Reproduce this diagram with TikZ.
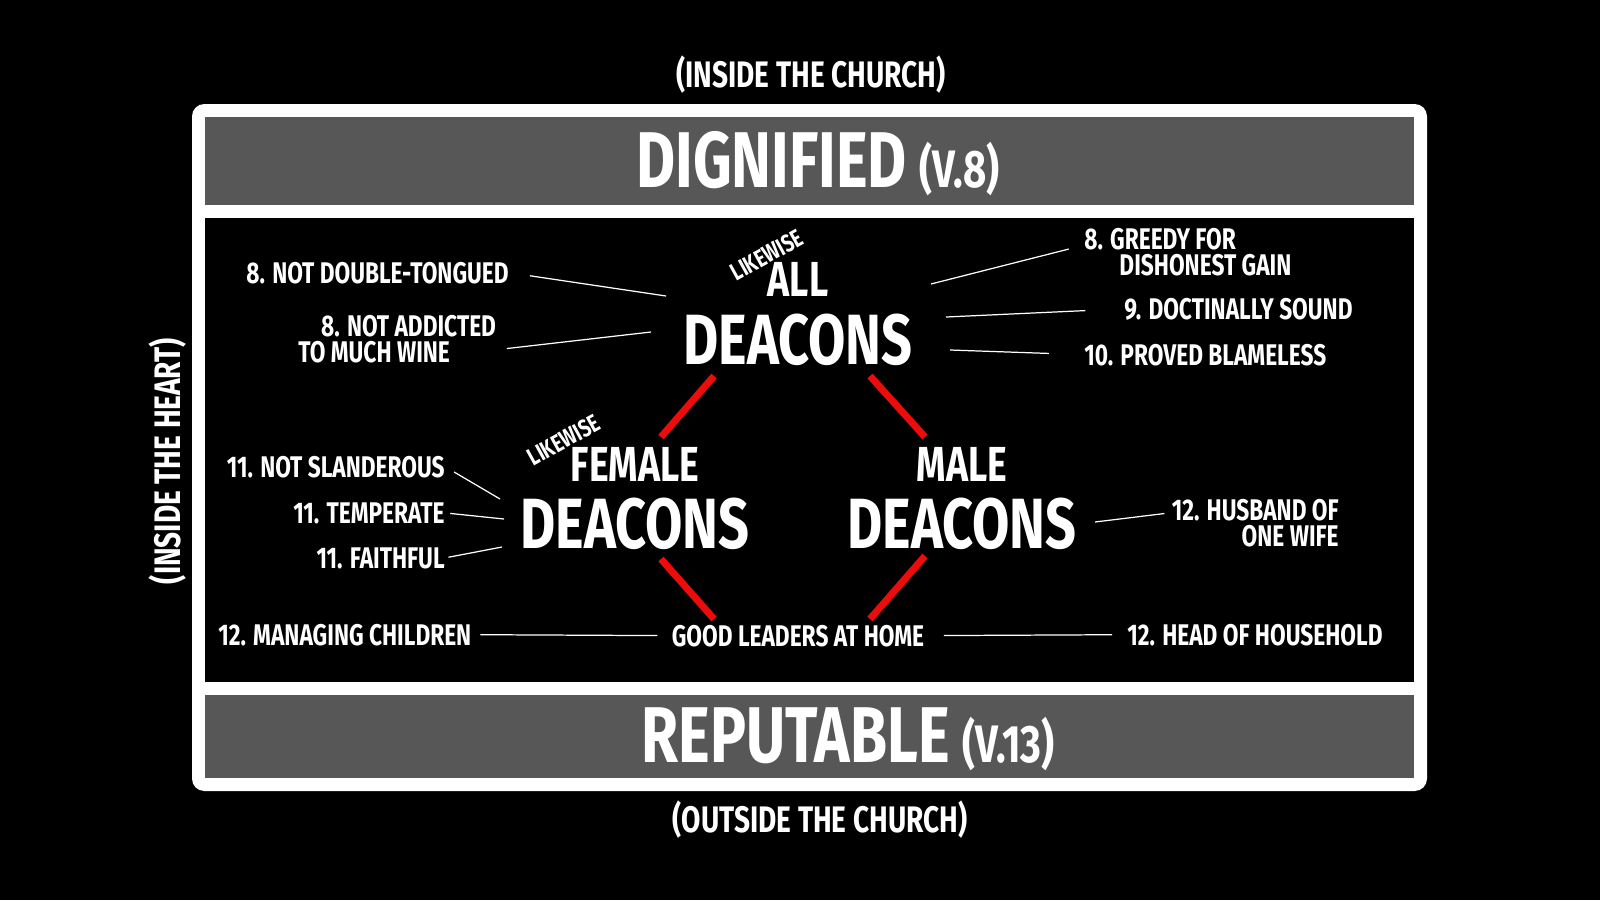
\documentclass[tikz,border=0pt]{standalone}
\usepackage{fontspec}
\newfontfamily\slidefont{Fira Sans}[FakeStretch=0.76]
\usetikzlibrary{positioning}
\definecolor{bandgray}{RGB}{87,87,87}
\definecolor{barred}{RGB}{235,12,12}

\tikzset{
  lbl/.style={text=white, inner sep=0pt, font=\slidefont\bfseries\fontsize{17}{14.8}\selectfont},
  side/.style={lbl, font=\slidefont\bfseries\fontsize{21}{21}\selectfont},
  group/.style={lbl, font=\slidefont\bfseries\fontsize{28}{28}\selectfont},
  deacons/.style={lbl, font=\slidefont\bfseries\fontsize{40.5}{40}\selectfont},
  likewise/.style={lbl, font=\slidefont\bfseries\fontsize{14}{14}\selectfont},
  leader/.style={draw=white, line width=0.7pt},
  redbar/.style={draw=barred, line width=4pt}
}

\begin{document}
\begin{tikzpicture}[x=0.02cm, y=-0.02cm]
\fill[black] (0,0) rectangle (1600,900);
\useasboundingbox (0,0) rectangle (1600,900);

% frame and bands
\fill[white, rounded corners=7pt] (192,104) rectangle (1427,791);
\fill[bandgray] (205,117) rectangle (1414,205);
\fill[black] (205,218) rectangle (1414,682);
\fill[bandgray] (205,695) rectangle (1414,778);

% outside labels
\node[side, anchor=base] (inchurch) at (811,87) {(INSIDE THE CHURCH)};
\node[side, anchor=base] (outchurch) at (820,832) {(OUTSIDE THE CHURCH)};
\node[side, rotate=90] (inheart) at (168,461) {(INSIDE THE HEART)};

\node[lbl, anchor=base, font=\slidefont\bfseries\fontsize{45}{45}\selectfont] (dign) at (818,187)
  {DIGNIFIED\,{\fontsize{30}{30}\selectfont(V.8)}};
\node[lbl, anchor=base, font=\slidefont\bfseries\fontsize{45}{45}\selectfont] (rep) at (848,762)
  {REPUTABLE\,{\fontsize{30}{30}\selectfont(V.13)}};

% deacon groups
\node[deacons, anchor=base] (adeac) at (798,364) {DEACONS};
\node[group, above=9pt of adeac] (all) {ALL};
\node[likewise, rotate=29] (alike) at (767,255) {LIKEWISE};

\node[deacons, anchor=base] (fdeac) at (635,548) {DEACONS};
\node[group, above=8.5pt of fdeac] (fem) {FEMALE};
\node[likewise, rotate=29] (flike) at (564,440) {LIKEWISE};

\node[deacons, anchor=base] (mdeac) at (962,548) {DEACONS};
\node[group, above=8.5pt of mdeac] (male) {MALE};

\node[lbl, anchor=base] (lead) at (798,646) {GOOD LEADERS AT HOME};

% red bars
\coordinate (r1a) at (714,376); \coordinate (r1b) at (661,437);
\coordinate (r2a) at (870,376); \coordinate (r2b) at (925,437);
\coordinate (r3a) at (661,559); \coordinate (r3b) at (714,619);
\coordinate (r4a) at (925,556); \coordinate (r4b) at (870,619);
\draw[redbar] (r1a) -- (r1b);
\draw[redbar] (r2a) -- (r2b);
\draw[redbar] (r3a) -- (r3b);
\draw[redbar] (r4a) -- (r4b);

% qualifications, left
\node[lbl, anchor=base east] (dbl) at (509,283) {8. NOT DOUBLE-TONGUED};
\node[lbl, anchor=north west, align=left] (wine) at (298,315) {\hspace*{13pt}8. NOT ADDICTED\\TO MUCH WINE};
\node[lbl, anchor=base east] (sland) at (445,477) {11. NOT SLANDEROUS};
\node[lbl, anchor=base east] (temp) at (445,523) {11. TEMPERATE};
\node[lbl, anchor=base east] (faith) at (445,568) {11. FAITHFUL};
\node[lbl, anchor=base west] (manag) at (218,645) {12. MANAGING CHILDREN};

% qualifications, right
\node[lbl, anchor=north west, align=left] (greedy) at (1084,228) {8. GREEDY FOR\\\hspace*{20pt}DISHONEST GAIN};
\node[lbl, anchor=base west] (sound) at (1124,319) {9. DOCTINALLY SOUND};
\node[lbl, anchor=base west] (blame) at (1084,365) {10. PROVED BLAMELESS};
\node[lbl, anchor=north east, align=right] (husb) at (1339,499) {12. HUSBAND OF\\ONE WIFE};
\node[lbl, anchor=base west] (head) at (1127,645) {12. HEAD OF HOUSEHOLD};

% leader lines
\coordinate (dbl-end) at (666,296);
\coordinate (wine-end) at (651,332);
\coordinate (sland-end) at (500,499);
\coordinate (temp-end) at (504,519);
\coordinate (faith-end) at (502,547);
\coordinate (greedy-end) at (931,284);
\coordinate (sound-end) at (946,317);
\coordinate (blame-end) at (950,350);
\coordinate (husb-end) at (1095,522);

\draw[leader, shorten <=12pt] (dbl.east) -- (dbl-end);
\draw[leader, shorten <=6pt] ([yshift=-6pt]wine.east) -- (wine-end);
\draw[leader, shorten <=6pt] (sland.east) -- (sland-end);
\draw[leader, shorten <=3pt] (temp.east) -- (temp-end);
\draw[leader, shorten <=2pt] (faith.east) -- (faith-end);
\draw[leader, shorten <=5pt, shorten >=8pt] (manag.east) -- (lead.west);
\draw[leader, shorten <=9pt] ([yshift=4pt]greedy.west) -- (greedy-end);
\draw[leader, shorten <=22pt] (sound.west) -- (sound-end);
\draw[leader, shorten <=20pt] (blame.west) -- (blame-end);
\draw[leader, shorten <=4pt] ([yshift=6pt]husb.west) -- (husb-end);
\draw[leader, shorten <=8.5pt, shorten >=11pt] (head.west) -- (lead.east);
\end{tikzpicture}
\end{document}
